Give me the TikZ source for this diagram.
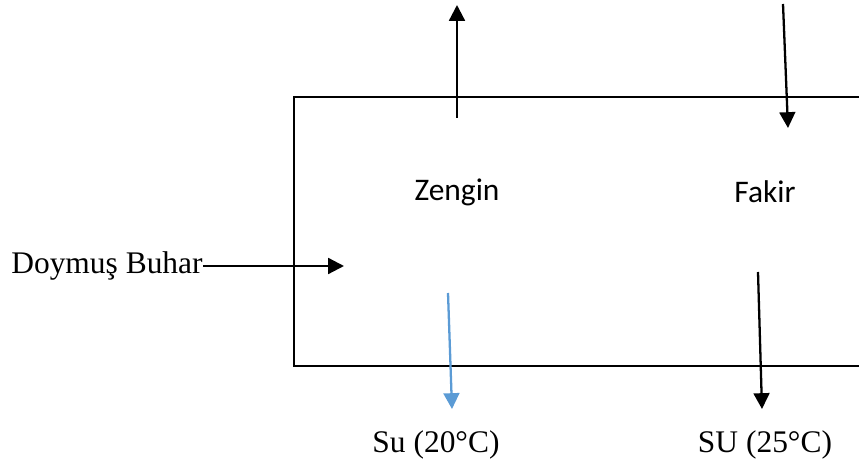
\documentclass[tikz,border=0pt]{standalone}
\usepackage{fontspec}
\setmainfont{Liberation Serif}
\newfontfamily\calibri{Carlito}
\usetikzlibrary{arrows.meta}
\definecolor{coldblue}{RGB}{91,155,213}

\begin{document}
\begin{tikzpicture}[
    x=0.02cm, y=-0.02cm,
    flow/.style={line width=1.3pt, -{Triangle[length=9pt, width=9pt]}},
    label/.style={font=\fontsize{17.9}{21}\selectfont, inner sep=0pt},
    stage/.style={font=\calibri\fontsize{17.9}{21}\selectfont, inner sep=0pt}
]
\useasboundingbox (0,0) rectangle (859,472);
% column body, open on the right
\draw[line width=0.9pt] (859,97) -- (294,97) -- (294,366) -- (859,366);

\node[stage] (zengin) at (457,192) {Zengin};
\node[stage] (fakir) at (765,192) {Fakir};
\node[label, anchor=east] (steam) at (203,266) {Doymuş Buhar};
\node[label] (water20) at (436,445) {Su (20°C)};
\node[label] (water25) at (765,445) {SU (25°C)};

\coordinate (steamIn) at (344,266);
\coordinate (richOut0) at (457,118);
\coordinate (richOut1) at (457,5);
\coordinate (leanIn0) at (783,4);
\coordinate (leanIn1) at (788,128);
\coordinate (cold0) at (448,293);
\coordinate (cold1) at (452,409);
\coordinate (warm0) at (758,272);
\coordinate (warm1) at (762,409);

\draw[flow] (steam.east) -- (steamIn);
\draw[flow] (richOut0) -- (richOut1);
\draw[flow] (leanIn0) -- (leanIn1);
\draw[flow, coldblue] (cold0) -- (cold1);
\draw[flow] (warm0) -- (warm1);
\end{tikzpicture}
\end{document}
